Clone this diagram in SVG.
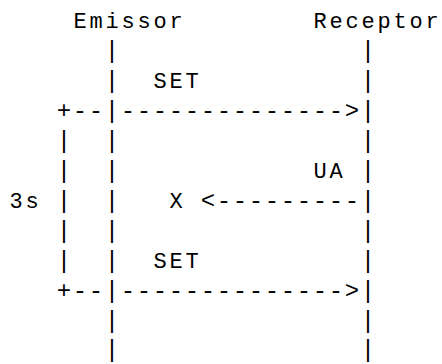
<svg xmlns="http://www.w3.org/2000/svg" width="442" height="364" viewBox="0 0 442 364">
  <style>
    text { fill: #000; white-space: pre; }
    /* character grid: 16px per column, 30px per row */
    .lbl { font-family: "Liberation Mono", "DejaVu Sans Mono", monospace; font-size: 22px; letter-spacing: 2.8px; }
    .sym { font-family: "Liberation Mono", "DejaVu Sans Mono", monospace; font-size: 24px; letter-spacing: 1.6px; }
  </style>
  <rect width="442" height="364" fill="#fff"/>

  <!-- sender: name and lifeline (column 6) -->
  <g id="emissor">
    <text class="lbl" x="73.4" y="28">Emissor</text>
    <text class="sym">
      <tspan x="104.8" y="58">|</tspan>
      <tspan x="104.8" y="88">|</tspan>
      <tspan x="104.8" y="118">|</tspan>
      <tspan x="104.8" y="148">|</tspan>
      <tspan x="104.8" y="178">|</tspan>
      <tspan x="104.8" y="208">|</tspan>
      <tspan x="104.8" y="238">|</tspan>
      <tspan x="104.8" y="268">|</tspan>
      <tspan x="104.8" y="298">|</tspan>
      <tspan x="104.8" y="328">|</tspan>
      <tspan x="104.8" y="357">|</tspan>
    </text>
  </g>

  <!-- receiver: name and lifeline (column 22) -->
  <g id="receptor">
    <text class="lbl" x="313.4" y="28">Receptor</text>
    <text class="sym">
      <tspan x="360.8" y="58">|</tspan>
      <tspan x="360.8" y="88">|</tspan>
      <tspan x="360.8" y="118">|</tspan>
      <tspan x="360.8" y="148">|</tspan>
      <tspan x="360.8" y="178">|</tspan>
      <tspan x="360.8" y="208">|</tspan>
      <tspan x="360.8" y="238">|</tspan>
      <tspan x="360.8" y="268">|</tspan>
      <tspan x="360.8" y="298">|</tspan>
      <tspan x="360.8" y="328">|</tspan>
      <tspan x="360.8" y="357">|</tspan>
    </text>
  </g>

  <!-- retransmission timer bracket -->
  <g id="timer">
    <text class="lbl" x="9.4" y="208">3s</text>
    <text class="sym">
      <tspan x="56.8" y="118">+--</tspan>
      <tspan x="56.8" y="148">|</tspan>
      <tspan x="56.8" y="178">|</tspan>
      <tspan x="56.8" y="208">|</tspan>
      <tspan x="56.8" y="238">|</tspan>
      <tspan x="56.8" y="268">|</tspan>
      <tspan x="56.8" y="298">+--</tspan>
    </text>
  </g>

  <!-- messages -->
  <g id="connectors">
    <g id="set-1">
      <text class="lbl" x="153.4" y="88">SET</text>
      <text class="sym" x="120.8" y="118">--------------&gt;</text>
    </g>
    <g id="ua-lost">
      <text class="lbl" x="313.4" y="178">UA</text>
      <text class="lbl" x="169.4" y="208">X</text>
      <text class="sym" x="200.8" y="208">&lt;---------</text>
    </g>
    <g id="set-2">
      <text class="lbl" x="153.4" y="268">SET</text>
      <text class="sym" x="120.8" y="298">--------------&gt;</text>
    </g>
  </g>
</svg>
